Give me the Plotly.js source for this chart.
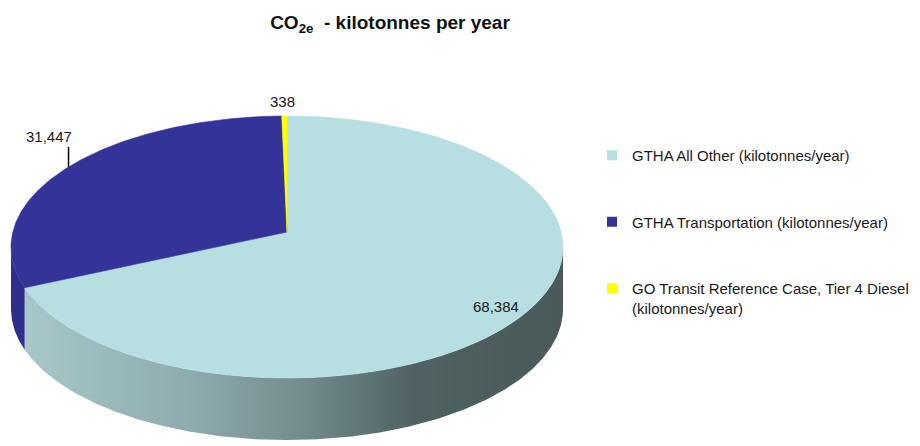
<!DOCTYPE html>
<html>
<head>
<meta charset="utf-8">
<script src="https://cdn.plot.ly/plotly-3.0.1.min.js"></script>
<style>html,body{margin:0;padding:0;background:#fff;}#chart{width:920px;height:446px;}</style>
</head>
<body>
<div id="chart"></div>
<script>
// ---- data ----
const categories = [
  'GTHA All Other (kilotonnes/year)',
  'GTHA Transportation (kilotonnes/year)',
  'GO Transit Reference Case, Tier 4 Diesel<br>(kilotonnes/year)'
];
const values = [68384, 31447, 338];
const valueLabels = ['68,384', '31,447', '338'];
const titleText = '<b>CO<sub>2e</sub>  - kilotonnes per year</b>';

// ---- style ----
const topColors = ['#b7dfe2', '#333399', '#ffff00'];
const sideColors = [null, '#2e2e8c', '#d8d800'];
const sideGradient = [[0, '#a7c7c9'], [0.3, '#8eacae'], [0.52, '#728c8d'], [0.72, '#506263'], [1, '#4a5959']];
const FONT = '"Liberation Sans", Arial, sans-serif';

// perspective projection of the pie disc (screen pixels)
const G = {x0: 287, y0: 232, a: 274.2, b: 129.3, k: 0.1145, depth: 62};
function proj(thetaDeg, r) {
  const t = thetaDeg * Math.PI / 180;
  const X = r * Math.sin(t), Z = -r * Math.cos(t);
  const w = 1 - G.k * Z;
  return [G.x0 + G.a * X / w, G.y0 + G.b * Z / w];
}
function arc(s, e, dy) {
  const pts = [];
  const n = Math.max(2, Math.ceil(Math.abs(e - s) / 0.5));
  for (let i = 0; i <= n; i++) {
    const p = proj(s + (e - s) * i / n, 1);
    pts.push([p[0], p[1] + (dy || 0)]);
  }
  return pts;
}

const total = values.reduce((a, b) => a + b, 0);
const starts = [], ends = [];
let acc = 0;
values.forEach(v => { starts.push(acc / total * 360); acc += v; ends.push(acc / total * 360); });

const visA = Math.acos(-G.k) * 180 / Math.PI, visB = 360 - visA;
const traces = [];

// side walls
values.forEach((v, i) => {
  const s = Math.max(starts[i], visA), e = Math.min(ends[i], visB);
  if (e <= s) return;
  const top = arc(s, e, 0), bot = arc(e, s, G.depth);
  const pts = top.concat(bot);
  pts.push(pts[0]);
  const tr = {
    type: 'scatter', mode: 'lines', x: pts.map(p => p[0]), y: pts.map(p => p[1]),
    fill: 'toself', line: {width: 0}, hoverinfo: 'skip', showlegend: false
  };
  if (i === 0) {
    tr.fillgradient = {type: 'horizontal', colorscale: sideGradient};
  } else {
    tr.fillcolor = sideColors[i];
  }
  traces.push(tr);
});

// top faces
values.forEach((v, i) => {
  const pts = [[G.x0, G.y0]].concat(arc(starts[i], ends[i], 0));
  pts.push([G.x0, G.y0]);
  traces.push({
    type: 'scatter', mode: 'lines', x: pts.map(p => p[0]), y: pts.map(p => p[1]),
    fill: 'toself', fillcolor: topColors[i], line: {width: 0.6, color: topColors[i]},
    hoverinfo: 'skip', showlegend: false
  });
});

// legend entries
categories.forEach((c, i) => {
  traces.push({
    type: 'scatter', mode: 'markers', x: [null], y: [null], name: c,
    legendgroup: 'g' + i,
    marker: {symbol: 'square', size: 10, color: topColors[i]}, hoverinfo: 'skip'
  });
});

// data labels
const annotations = [];
const mids = values.map((v, i) => (starts[i] + ends[i]) / 2);
{
  const p = proj(mids[0], 0.86);
  annotations.push({x: p[0], y: p[1], text: valueLabels[0], showarrow: false, xanchor: 'center', yanchor: 'middle', yshift: -11});
}
{
  const p = proj(mids[1], 1);
  traces.push({type: 'scatter', mode: 'lines', x: [p[0], p[0]], y: [p[1], p[1] - 20],
    line: {color: '#000', width: 1.5}, hoverinfo: 'skip', showlegend: false});
  annotations.push({x: p[0], y: p[1] - 20, text: valueLabels[1], showarrow: false, xanchor: 'right', yanchor: 'bottom', xshift: 5, yshift: 0});
}
{
  const p = proj(mids[2], 1);
  annotations.push({x: p[0], y: p[1], text: valueLabels[2], showarrow: false, xanchor: 'center', yanchor: 'bottom', xshift: -2, yshift: 4});
}
annotations.forEach(a => { a.font = {family: FONT, size: 15, color: '#1a1a1a'}; });

const layout = {
  width: 920, height: 446,
  margin: {l: 0, r: 0, t: 0, b: 0, autoexpand: false},
  paper_bgcolor: '#fff', plot_bgcolor: '#fff',
  xaxis: {range: [0, 920], visible: false, fixedrange: true},
  yaxis: {range: [446, 0], visible: false, fixedrange: true},
  title: {
    text: titleText, x: 390 / 920, xanchor: 'center', xref: 'paper',
    y: 1 - 22 / 446, yref: 'container', yanchor: 'middle',
    font: {family: FONT, size: 19, color: '#111'}
  },
  showlegend: true,
  legend: {
    x: 592 / 920, xanchor: 'left', y: 1 - 139 / 446, yanchor: 'top',
    font: {family: FONT, size: 15, color: '#1a1a1a'},
    tracegroupgap: 44, valign: 'top', bgcolor: 'rgba(0,0,0,0)', itemclick: false, itemdoubleclick: false
  },
  annotations: annotations
};

Plotly.newPlot('chart', traces, layout, {staticPlot: true, displayModeBar: false});
</script>
</body>
</html>
